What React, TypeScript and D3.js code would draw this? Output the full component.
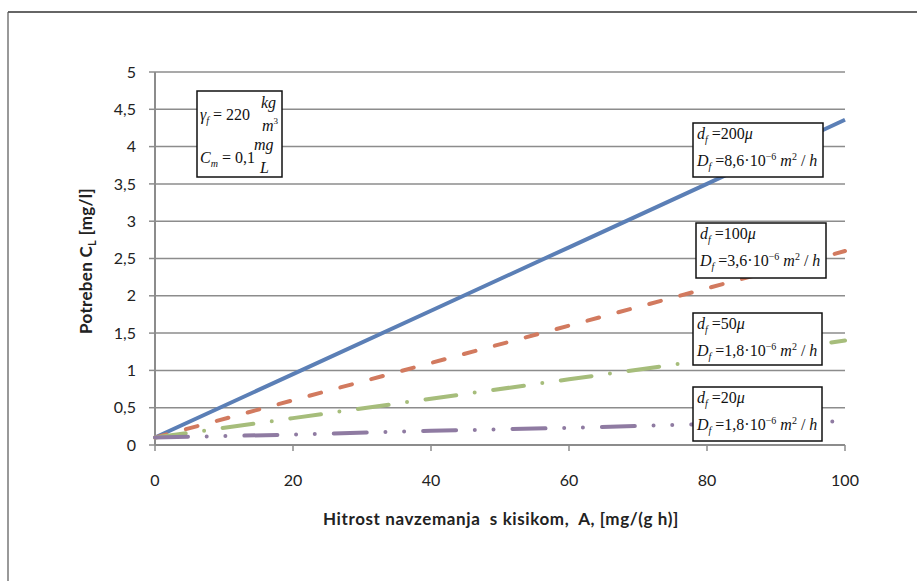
import React from "react";
import * as d3 from "d3";

// x values where the curves were read
const xValues = [0, 20, 40, 60, 80, 100];
// potreben C_L for each particle size
const curve200 = [0.1, 0.95, 1.8, 2.65, 3.5, 4.36];
const curve100 = [0.1, 0.6, 1.1, 1.6, 2.1, 2.6];
const curve50 = [0.1, 0.36, 0.62, 0.88, 1.14, 1.4];
const curve20 = [0.1, 0.14, 0.19, 0.23, 0.28, 0.32];

const xTicks = [0, 20, 40, 60, 80, 100];
const yTicks = [0, 0.5, 1, 1.5, 2, 2.5, 3, 3.5, 4, 4.5, 5];

const series = [
  { name: "200", values: curve200, color: "#5b7fb6", dash: "none" },
  { name: "100", values: curve100, color: "#d27a5f", dash: "12 20" },
  { name: "50", values: curve50, color: "#a6bd7b", dash: "31 18.6 0 18.7" },
  { name: "20", values: curve20, color: "#8f7ba2", dash: "33 18.7 0 18.7 0 19" },
];

// annotation labels: d_f, D_f mantissa
const noteSizes = ["200", "100", "50", "20"];
const noteD = ["8,6", "3,6", "1,8", "1,8"];

const W = 917, H = 581;
const m = { left: 155, right: 845, top: 72, bottom: 445 };
const serif = "'Liberation Serif', 'Times New Roman', serif";
const sans = "Lato, Carlito, Calibri, sans-serif";

export default function App() {
  const x = d3.scaleLinear().domain([0, 100]).range([m.left, m.right]);
  const y = d3.scaleLinear().domain([0, 5]).range([m.bottom, m.top]);
  const line = d3.line<number>().x((_, i) => x(xValues[i])).y((d) => y(d));

  // boxes for the four d_f notes (pixel layout)
  const boxes = [
    { x: 693, y: 123, w: 130, h: 54 },
    { x: 696, y: 223, w: 130, h: 55 },
    { x: 693, y: 313, w: 129, h: 52 },
    { x: 693, y: 387, w: 129, h: 54 },
  ];

  return (
    <svg width={W} height={H} style={{ position: "absolute", left: 0, top: 0, background: "#fff" }}>
      <line x1={8} y1={12} x2={W} y2={12} stroke="#333" strokeWidth={1.5} />
      <line x1={8} y1={12} x2={8} y2={H} stroke="#555" strokeWidth={1.2} />

      {/* grid */}
      {yTicks.map((t) => (
        <g key={"y" + t}>
          {t > 0 && <line x1={m.left} x2={m.right} y1={y(t)} y2={y(t)} stroke="#8c8c8c" strokeWidth={1.5} />}
          <line x1={m.left - 6} x2={m.left} y1={y(t)} y2={y(t)} stroke="#8c8c8c" strokeWidth={1.5} />
          <text x={136} y={y(t)} dy="0.35em" textAnchor="end" fontFamily={sans} fontSize={16} fill="#222">
            {String(t).replace(".", ",")}
          </text>
        </g>
      ))}
      <line x1={m.left} x2={m.left} y1={m.top} y2={m.bottom} stroke="#8c8c8c" strokeWidth={2} />
      <line x1={m.left} x2={m.right} y1={m.bottom} y2={m.bottom} stroke="#8c8c8c" strokeWidth={2} />
      {xTicks.map((t) => (
        <g key={"x" + t}>
          <line x1={x(t)} x2={x(t)} y1={m.bottom} y2={m.bottom + 6} stroke="#8c8c8c" strokeWidth={1.5} />
          <text x={x(t)} y={480} dy="0.35em" textAnchor="middle" fontFamily={sans} fontSize={16} fill="#222">
            {t}
          </text>
        </g>
      ))}

      {/* curves */}
      {series.map((s) => (
        <path key={s.name} d={line(s.values) || ""} fill="none" stroke={s.color} strokeWidth={4}
          strokeDasharray={s.dash} strokeLinecap={s.dash === "none" ? "butt" : "round"} />
      ))}

      {/* axis titles */}
      <text x={501} y={519} dy="0.35em" textAnchor="middle" fontFamily={sans} fontWeight="bold" fontSize={17} letterSpacing={0.6} fill="#222">
        {"Hitrost navzemanja\u00a0 s kisikom,\u00a0 A, [mg/(g h)]"}
      </text>
      <text transform="translate(86,261) rotate(-90)" textAnchor="middle" dy="0.35em" fontFamily={sans} fontWeight="bold" fontSize={17} letterSpacing={0.3} fill="#222">
        Potreben C<tspan fontSize={11} dy={4}>L</tspan><tspan dy={-4}> [mg/l]</tspan>
      </text>

      {/* constants box */}
      <rect x={197} y={91} width={85} height={86} fill="#fff" stroke="#111" strokeWidth={1.5} />
      <g fontFamily={serif} fill="#111">
        <text x={200} y={120} fontSize={16}>
          <tspan fontStyle="italic">γ</tspan>
          <tspan fontStyle="italic" fontSize={10} dy={4}>f</tspan>
          <tspan dy={-4}>{"\u00a0= 220"}</tspan>
        </text>
        <text x={261} y={108} fontSize={16} fontStyle="italic">kg</text>
        <text x={262} y={131} fontSize={16} fontStyle="italic">m<tspan fontStyle="normal" fontSize={9} dy={-7}>3</tspan></text>
        <text x={200} y={163} fontSize={16}>
          <tspan fontStyle="italic">C</tspan>
          <tspan fontStyle="italic" fontSize={10} dy={4}>m</tspan>
          <tspan dy={-4}>{"\u00a0= 0,1"}</tspan>
        </text>
        <text x={254} y={150} fontSize={16} fontStyle="italic">mg</text>
        <text x={260} y={173} fontSize={16} fontStyle="italic">L</text>
      </g>

      {/* d_f notes */}
      {boxes.map((b, i) => (
        <g key={"n" + i} fontFamily={serif} fill="#111">
          <rect x={b.x} y={b.y} width={b.w} height={b.h} fill="#fff" stroke="#111" strokeWidth={1.5} />
          <text x={b.x + 4} y={b.y + 16} fontSize={16}>
            <tspan fontStyle="italic">d</tspan>
            <tspan fontStyle="italic" fontSize={10} dy={4}>f</tspan>
            <tspan dy={-4}>{"\u00a0=" + noteSizes[i]}</tspan>
            <tspan fontStyle="italic">μ</tspan>
          </text>
          <text x={b.x + 4} y={b.y + 43} fontSize={16}>
            <tspan fontStyle="italic">D</tspan>
            <tspan fontStyle="italic" fontSize={10} dy={4}>f</tspan>
            <tspan dy={-4}>{"\u00a0=" + noteD[i] + "·10"}</tspan>
            <tspan fontSize={10} dy={-6}>−6</tspan>
            <tspan dy={6} fontStyle="italic">{"\u00a0m"}</tspan>
            <tspan fontSize={10} dy={-6}>2</tspan>
            <tspan dy={6}>{"\u00a0/\u00a0"}</tspan>
            <tspan fontStyle="italic">h</tspan>
          </text>
        </g>
      ))}
    </svg>
  );
}
